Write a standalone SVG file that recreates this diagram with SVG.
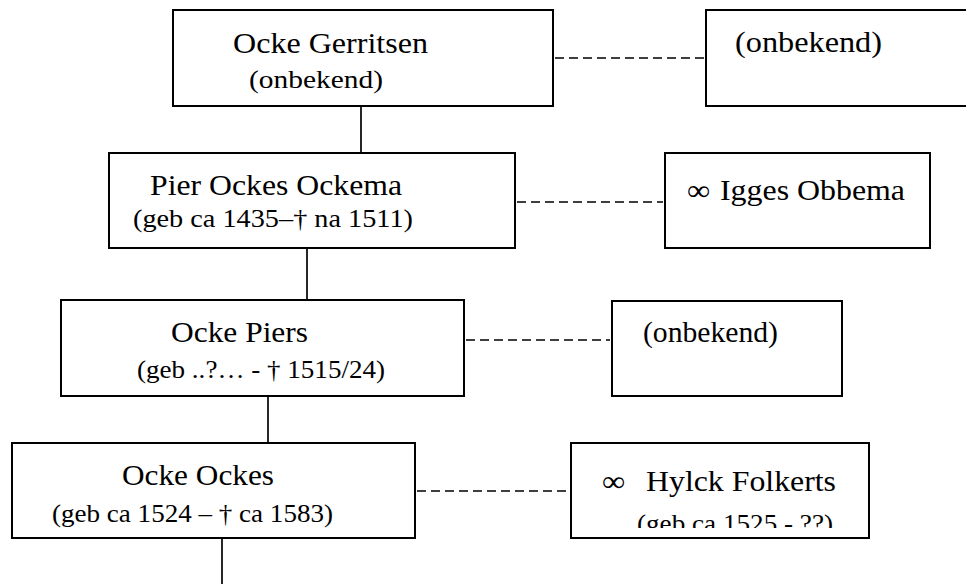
<svg xmlns="http://www.w3.org/2000/svg" width="966" height="584" viewBox="0 0 966 584">
<style>
.box{fill:#fff;stroke:#000;stroke-width:2}
.t{font-family:"Liberation Serif","Times New Roman",serif;fill:#000}
.m{font-size:29px}
.s{font-size:26px}
.solid{stroke:#000;stroke-width:1.7;fill:none}
.dash{stroke:#000;stroke-width:1.7;fill:none;stroke-dasharray:9 5}
</style>
<defs>
<clipPath id="hylckClip"><rect x="571" y="443" width="298" height="85"/></clipPath>
</defs>
<rect width="966" height="584" fill="#fff"/>
<g id="connectors">
<line class="solid" x1="361" y1="106" x2="361" y2="153"/>
<line class="solid" x1="307" y1="248" x2="307" y2="300"/>
<line class="solid" x1="268" y1="396" x2="268" y2="443"/>
<line class="solid" x1="222" y1="538" x2="222" y2="584"/>
<line class="dash" x1="555" y1="58" x2="704" y2="58"/>
<line class="dash" x1="517" y1="202" x2="663" y2="202"/>
<line class="dash" x1="466" y1="340" x2="610" y2="340"/>
<line class="dash" x1="417" y1="491" x2="569" y2="491"/>
</g>
<g id="ocke-gerritsen">
<rect class="box" x="173" y="10" width="380" height="96"/>
<text class="t m" x="233" y="53" textLength="195" lengthAdjust="spacingAndGlyphs">Ocke Gerritsen</text>
<text class="t s" x="249" y="88" textLength="134" lengthAdjust="spacingAndGlyphs">(onbekend)</text>
</g>
<g id="spouse-1">
<rect class="box" x="706" y="10" width="280" height="96"/>
<text class="t m" x="735" y="52" textLength="147" lengthAdjust="spacingAndGlyphs">(onbekend)</text>
</g>
<g id="pier-ockes-ockema">
<rect class="box" x="109" y="153" width="406" height="95"/>
<text class="t m" x="150" y="195" textLength="252" lengthAdjust="spacingAndGlyphs">Pier Ockes Ockema</text>
<text class="t s" x="133" y="227" textLength="280" lengthAdjust="spacingAndGlyphs">(geb ca 1435–† na 1511)</text>
</g>
<g id="igges-obbema">
<rect class="box" x="665" y="153" width="265" height="95"/>
<text class="t m" x="687" y="200" textLength="23" lengthAdjust="spacingAndGlyphs">∞</text>
<text class="t m" x="720" y="200" textLength="185" lengthAdjust="spacingAndGlyphs">Igges Obbema</text>
</g>
<g id="ocke-piers">
<rect class="box" x="61" y="300" width="403" height="96"/>
<text class="t m" x="171" y="342" textLength="137" lengthAdjust="spacingAndGlyphs">Ocke Piers</text>
<text class="t s" x="137" y="378" textLength="248" lengthAdjust="spacingAndGlyphs">(geb ..?… - † 1515/24)</text>
</g>
<g id="spouse-3">
<rect class="box" x="612" y="301" width="230" height="95"/>
<text class="t m" x="643" y="342" textLength="135" lengthAdjust="spacingAndGlyphs">(onbekend)</text>
</g>
<g id="ocke-ockes">
<rect class="box" x="12" y="443" width="403" height="95"/>
<text class="t m" x="122" y="485" textLength="152" lengthAdjust="spacingAndGlyphs">Ocke Ockes</text>
<text class="t s" x="52" y="522" textLength="281" lengthAdjust="spacingAndGlyphs">(geb ca 1524 – † ca 1583)</text>
</g>
<g id="hylck-folkerts">
<rect class="box" x="571" y="443" width="298" height="95"/>
<text class="t m" x="602" y="491" textLength="23" lengthAdjust="spacingAndGlyphs">∞</text>
<text class="t m" x="646" y="491" textLength="190" lengthAdjust="spacingAndGlyphs">Hylck Folkerts</text>
<text class="t s" x="637" y="532" textLength="196" lengthAdjust="spacingAndGlyphs" clip-path="url(#hylckClip)">(geb ca 1525 - ??)</text>
</g>
</svg>
